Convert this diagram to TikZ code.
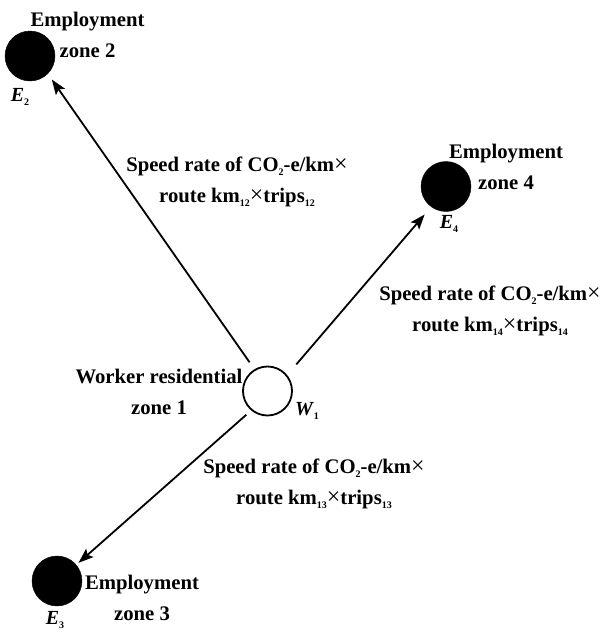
\documentclass[tikz,border=0pt]{standalone}
\usepackage{fontspec}
\setmainfont{Liberation Serif}
\usetikzlibrary{arrows.meta}

% small lowered index used in the flow formulas
\newcommand{\idx}[1]{\raisebox{-0.45ex}{\fontsize{10}{10}\selectfont #1}}
\newcommand{\tms}{{\mdseries\fontsize{24}{24}\selectfont ×}}

\begin{document}
\begin{tikzpicture}[x=1pt,y=-1pt,
  txt/.style={font=\bfseries\fontsize{20.7}{31}\selectfont, align=center, inner sep=0pt},
  zonefull/.style={circle, fill=black, draw=black, minimum size=50pt, inner sep=0pt},
  zoneopen/.style={circle, fill=white, draw=black, line width=1.8pt, minimum size=49pt, inner sep=0pt},
  zlabel/.style={font=\bfseries\fontsize{20}{20}\selectfont, inner sep=0pt},
  flow/.style={line width=1.8pt, -{Stealth[length=15pt,width=11pt,inset=3pt]}}
]
\useasboundingbox (0,0) rectangle (603,633);

% zones
\node[zoneopen] (W1) at (267.5,391) {};
\node[zonefull] (E2) at (30,56) {};
\node[zonefull] (E4) at (446,186.5) {};
\node[zonefull] (E3) at (57,581) {};

% zone names
\node[txt] (tW1) at (159,392) {Worker residential\\zone 1};
\node[txt] (tE2) at (87.5,35) {Employment\\zone 2};
\node[txt] (tE4) at (506,167) {Employment\\zone 4};
\node[txt] (tE3) at (142,598) {Employment\\zone 3};

% zone symbols
\node[zlabel] (sW1) at (307,411) {\textit{W}\idx{1}};
\node[zlabel] (sE2) at (20,97) {\textit{E}\idx{2}};
\node[zlabel] (sE4) at (449,224) {\textit{E}\idx{4}};
\node[zlabel] (sE3) at (55,620) {\textit{E}\idx{3}};

% commuting flows
\draw[flow, shorten <=8.5pt, shorten >=7pt] (W1.121) -- (E2.-45);
\draw[flow, shorten <=14pt, shorten >=10pt] (W1.39) -- (E4.234);
\draw[flow, shorten <=6.5pt, shorten >=3pt] (W1.230) -- (E3.40);

% emission formulas
\node[txt] (f12) at (237,182) {Speed rate of CO\idx{2}-e/km\tms\\route km\idx{12}\tms trips\idx{12}};
\node[txt] (f14) at (490,311) {Speed rate of CO\idx{2}-e/km\tms\\route km\idx{14}\tms trips\idx{14}};
\node[txt] (f13) at (314,484) {Speed rate of CO\idx{2}-e/km\tms\\route km\idx{13}\tms trips\idx{13}};
\end{tikzpicture}
\end{document}
